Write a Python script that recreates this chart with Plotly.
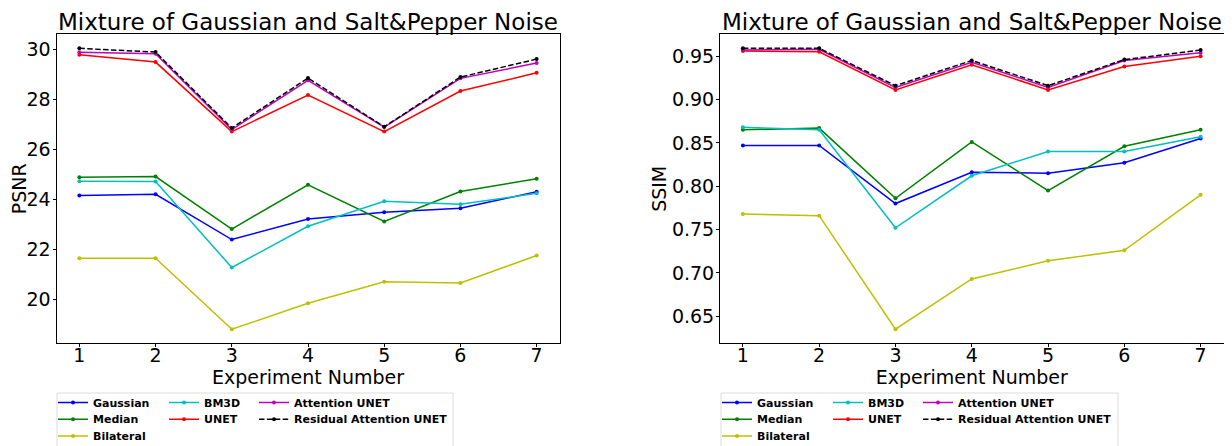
import plotly.graph_objects as go
from plotly.subplots import make_subplots

# ---------------- data ----------------
experiments = [1, 2, 3, 4, 5, 6, 7]
methods = ["Gaussian", "Median", "Bilateral", "BM3D", "UNET",
           "Attention UNET", "Residual Attention UNET"]

psnr_gaussian = [24.14, 24.19, 22.38, 23.20, 23.47, 23.63, 24.29]
psnr_median = [24.87, 24.90, 22.80, 24.57, 23.10, 24.30, 24.81]
psnr_bilateral = [21.63, 21.63, 18.79, 19.83, 20.69, 20.64, 21.74]
psnr_bm3d = [24.71, 24.70, 21.26, 22.91, 23.91, 23.79, 24.23]
psnr_unet = [29.77, 29.48, 26.70, 28.16, 26.70, 28.32, 29.05]
psnr_att_unet = [29.87, 29.81, 26.78, 28.75, 26.88, 28.83, 29.44]
psnr_res_att_unet = [30.03, 29.88, 26.84, 28.84, 26.89, 28.88, 29.60]

ssim_gaussian = [0.847, 0.847, 0.780, 0.816, 0.815, 0.827, 0.855]
ssim_median = [0.865, 0.867, 0.786, 0.851, 0.795, 0.846, 0.865]
ssim_bilateral = [0.768, 0.766, 0.635, 0.693, 0.714, 0.726, 0.790]
ssim_bm3d = [0.868, 0.865, 0.752, 0.812, 0.840, 0.840, 0.857]
ssim_unet = [0.956, 0.955, 0.911, 0.940, 0.911, 0.938, 0.950]
ssim_att_unet = [0.957, 0.958, 0.914, 0.943, 0.914, 0.945, 0.954]
ssim_res_att_unet = [0.959, 0.959, 0.916, 0.945, 0.916, 0.946, 0.957]

psnr_series = [psnr_gaussian, psnr_median, psnr_bilateral, psnr_bm3d,
               psnr_unet, psnr_att_unet, psnr_res_att_unet]
ssim_series = [ssim_gaussian, ssim_median, ssim_bilateral, ssim_bm3d,
               ssim_unet, ssim_att_unet, ssim_res_att_unet]

title_text = "Mixture of Gaussian and Salt&amp;Pepper Noise"

# ---------------- styles / layout ----------------
colors = ["#0000ff", "#008000", "#bfbf00", "#00bfbf", "#ff0000", "#bf00bf", "#000000"]
dashes = ["solid"] * 6 + ["5.5px,2.4px"]
FONT = "DejaVu Sans"

# the page body has an 8px margin: the figure is placed at (8, 8) in the window
OFF = 8
W, H = 1232 - OFF, 446 - OFF


def PX(x):  # window pixel -> paper x
    return (x - OFF) / W


def PY(y):  # window pixel -> paper y
    return 1 - (y - OFF) / H


# legend cell placement (column, row) in matplotlib column-major order
cells = [(0, 0), (0, 1), (0, 2), (1, 0), (1, 1), (2, 0), (2, 1)]
left_text_x = [93, 204, 294]
right_text_x = [757, 868, 958]
row_y = [402.5, 419.2, 435.9]

left_dom = [PX(56.5), PX(559.5)]
right_dom = [PX(720), PX(1223.5)]
y_dom = [PY(343.3), PY(34.3)]

fig = make_subplots(rows=1, cols=2)


def pad_range(vals, frac=0.05):
    lo, hi = min(vals), max(vals)
    m = (hi - lo) * frac
    return [lo - m, hi + m]


legend_layouts = {}
lg_index = 0
for col, (series, text_x) in enumerate([(psnr_series, left_text_x), (ssim_series, right_text_x)], start=1):
    for i, (name, ys) in enumerate(zip(methods, series)):
        lg_index += 1
        lid = "legend" if lg_index == 1 else f"legend{lg_index}"
        c, r = cells[i]
        fig.add_trace(go.Scatter(
            x=experiments, y=ys, name=name, mode="lines+markers",
            line=dict(color=colors[i], width=1.5, dash=dashes[i]),
            marker=dict(color=colors[i], size=4),
            legend=lid, showlegend=True,
        ), row=1, col=col)
        legend_layouts[lid] = dict(
            x=PX(text_x[c] - 40), xanchor="left",
            y=PY(row_y[r]), yanchor="middle",
            xref="paper", yref="paper",
            bgcolor="rgba(0,0,0,0)", borderwidth=0,
            font=dict(family=FONT, size=11, color="black", weight="bold"),
            itemclick=False, itemdoubleclick=False,
        )

all_psnr = [v for s in psnr_series for v in s]
all_ssim = [v for s in ssim_series for v in s]

axis_common = dict(
    showline=True, mirror=True, linecolor="black", linewidth=1,
    ticks="outside", ticklen=3, tickwidth=1, tickcolor="black",
    showgrid=False, zeroline=False, automargin=False,
    tickfont=dict(family=FONT, size=19, color="black"),
)
title_font = dict(family=FONT, size=19, color="black")

fig.update_xaxes(**axis_common, range=pad_range(experiments), dtick=1, tick0=1,
                 ticklabelstandoff=-8,
                 title=dict(text="Experiment Number", font=title_font, standoff=0))
fig.update_xaxes(domain=left_dom, row=1, col=1)
fig.update_xaxes(domain=right_dom, row=1, col=2)
fig.update_yaxes(**axis_common, ticklabelstandoff=-2)
fig.update_yaxes(domain=y_dom, range=pad_range(all_psnr), dtick=2, tick0=20,
                 title=dict(text="PSNR", font=title_font, standoff=4),
                 row=1, col=1)
fig.update_yaxes(domain=y_dom, range=pad_range(all_ssim), dtick=0.05, tick0=0.65, tickformat=".2f",
                 title=dict(text="SSIM", font=title_font, standoff=0),
                 row=1, col=2)

annotations = []
for dom in (left_dom, right_dom):
    annotations.append(dict(
        text=title_text, x=(dom[0] + dom[1]) / 2, xref="paper", xanchor="center",
        y=y_dom[1], yref="paper", yanchor="bottom", yshift=-3, showarrow=False,
        font=dict(family=FONT, size=23, color="black"),
    ))

shapes = []
for x0, x1 in ((57, 453), (721, 1118)):
    shapes.append(dict(
        type="rect", xref="paper", yref="paper",
        x0=PX(x0), x1=PX(x1), y0=PY(393), y1=PY(460),
        line=dict(color="#dcdcdc", width=1), fillcolor="rgba(255,255,255,0.8)", layer="below",
    ))

fig.update_layout(
    width=W, height=H, margin=dict(l=0, r=0, t=0, b=0, autoexpand=False),
    paper_bgcolor="white", plot_bgcolor="white",
    font=dict(family=FONT, color="black"),
    annotations=annotations, shapes=shapes,
    **legend_layouts,
)

fig.write_html("out.html")
